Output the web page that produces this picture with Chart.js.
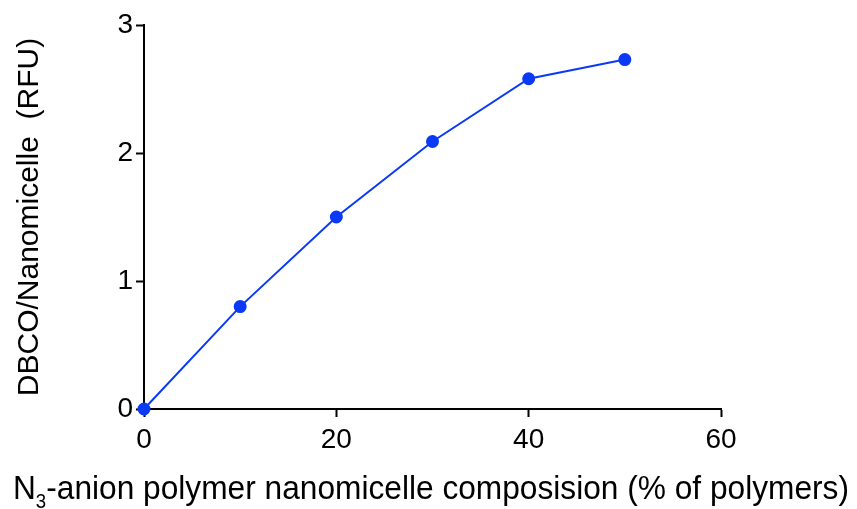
<!DOCTYPE html>
<html>
<head>
<meta charset="utf-8">
<script src="https://cdn.jsdelivr.net/npm/chart.js@4/dist/chart.umd.min.js"></script>
<style>
html,body{margin:0;padding:0;background:#fff;}
#wrap{width:857px;height:509px;position:relative;}
</style>
</head>
<body>
<div id="wrap"><canvas id="c" width="857" height="509"></canvas></div>
<script>
const xValues = [0, 10, 20, 30, 40, 50];
const yValues = [0, 0.80, 1.50, 2.09, 2.58, 2.73];
const xTicks = [0, 20, 40, 60];
const yTicks = [0, 1, 2, 3];
const yTitle = 'DBCO/Nanomicelle  (RFU)';
const xTitleMain = 'N';
const xTitleSub = '3';
const xTitleRest = '-anion polymer nanomicelle composision (% of polymers)';

const FONT = "'Liberation Sans', Arial, sans-serif";
const points = xValues.map((x, i) => ({x: x, y: yValues[i]}));

const xTitlePlugin = {
  id: 'xTitle',
  afterDraw(chart) {
    const ctx = chart.ctx;
    ctx.save();
    ctx.fillStyle = '#000';
    ctx.textBaseline = 'alphabetic';
    const big = "34px " + FONT, small = "20px " + FONT;
    ctx.font = big; const w1 = ctx.measureText(xTitleMain).width;
    const w3 = ctx.measureText(xTitleRest).width;
    ctx.font = small; const w2 = ctx.measureText(xTitleSub).width;
    const total = w1 + w2 + w3;
    const targetLeft = 13, targetWidth = 836;
    const sx = targetWidth / total;
    ctx.translate(targetLeft, 0);
    ctx.scale(sx, 1);
    let x = 0;
    const y = 499;
    ctx.font = big; ctx.fillText(xTitleMain, x, y); x += w1;
    ctx.font = small; ctx.fillText(xTitleSub, x, y + 9); x += w2;
    ctx.font = big; ctx.fillText(xTitleRest, x, y);
    ctx.restore();
  }
};

new Chart(document.getElementById('c'), {
  type: 'scatter',
  data: {
    datasets: [{
      data: points,
      showLine: true,
      borderColor: '#0a3af5',
      backgroundColor: '#0a3af5',
      borderWidth: 2,
      pointRadius: 5.5,
      pointHoverRadius: 5.5,
      clip: false
    }]
  },
  options: {
    responsive: false,
    animation: false,
    events: [],
    layout: {padding: {left: 0, right: 136, top: 25, bottom: 0}},
    plugins: {legend: {display: false}, tooltip: {enabled: false}},
    scales: {
      x: {
        type: 'linear',
        min: 0, max: 60,
        afterBuildTicks(s) { s.ticks = xTicks.map(v => ({value: v})); },
        afterFit(s) { s.height = 100; },
        grid: {drawOnChartArea: false, drawTicks: true, tickLength: 8, tickWidth: 2, tickColor: '#000'},
        border: {display: true, color: '#000', width: 2},
        ticks: {color: '#000', font: {family: FONT, size: 28}, padding: 6, maxRotation: 0}
      },
      y: {
        type: 'linear',
        min: 0, max: 3,
        afterBuildTicks(s) { s.ticks = yTicks.map(v => ({value: v})); },
        afterFit(s) { s.width = 144; },
        grid: {drawOnChartArea: false, drawTicks: true, tickLength: 8, tickWidth: 2, tickColor: '#000'},
        border: {display: true, color: '#000', width: 2},
        ticks: {color: '#000', font: {family: FONT, size: 28}, padding: 3},
        title: {display: true, text: yTitle, color: '#000', font: {family: FONT, size: 30}, padding: {top: 12, bottom: 0}}
      }
    }
  },
  plugins: [xTitlePlugin]
});
</script>
</body>
</html>
